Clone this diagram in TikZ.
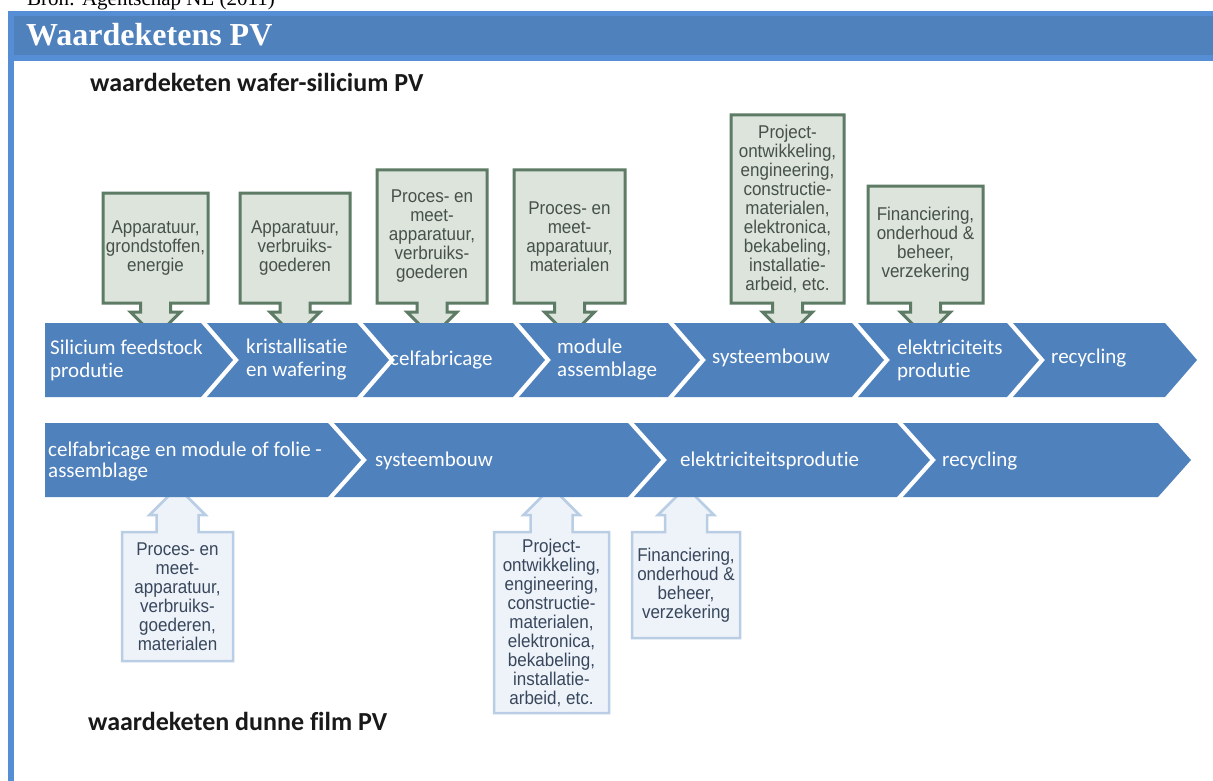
\documentclass[tikz,border=0pt]{standalone}
\usepackage{fontspec}
\setmainfont{Liberation Serif}
\newfontfamily\calib[Ligatures=NoCommon]{Carlito}
\newfontfamily\narrowsans[FakeStretch=0.92]{Liberation Sans}
\definecolor{hdrouter}{HTML}{558ED5}
\definecolor{hdrinner}{HTML}{4F81BD}
\definecolor{chevblue}{HTML}{4F81BD}
\definecolor{gfill}{HTML}{DCE4DC}
\definecolor{gline}{HTML}{5D7B65}
\definecolor{gtextc}{HTML}{46514A}
\definecolor{bfill}{HTML}{EEF3F9}
\definecolor{bline}{HTML}{B9CDE5}
\definecolor{btextc}{HTML}{38475C}
\tikzset{
  chevfill/.style={fill=chevblue},
  gbox/.style={draw=gline, fill=gfill, line width=3pt, line join=miter},
  bbox/.style={draw=bline, fill=bfill, line width=2.5pt, line join=miter},
  gtext/.style={text=gtextc, align=center, inner sep=0pt, font=\narrowsans\fontsize{18.5}{19}\selectfont},
  btext/.style={text=btextc, align=center, inner sep=0pt, font=\narrowsans\fontsize{18.5}{19}\selectfont},
  chevtext/.style={text=white, align=left, inner sep=0pt, anchor=west, font=\calib\fontsize{21}{23}\selectfont},
  heading/.style={anchor=base west, inner sep=0pt, text=black!90, font=\calib\bfseries\fontsize{26}{26}\selectfont}
}
% chevron with notch: L R top bot depth
\newcommand\mychev[5]{\fill[chevfill] (#1,#3) -- (#2,#3) -- ({#2+#5},{(#3+#4)/2}) -- (#2,#4) -- (#1,#4) -- ({#1+#5},{(#3+#4)/2}) -- cycle;}
% first chevron, flat left side
\newcommand\mychevfirst[5]{\fill[chevfill] (#1,#3) -- (#2,#3) -- ({#2+#5},{(#3+#4)/2}) -- (#2,#4) -- (#1,#4) -- cycle;}
% callout with arrow pointing down: x1 x2 top bot name text
\newcommand\calldown[6]{%
  \pgfmathsetmacro\cx{(#1+#2)/2}%
  \draw[gbox] (#1,#3) -- (#2,#3) -- (#2,#4) -- (\cx+15,#4) -- (\cx+15,#4+9) -- (\cx+25,#4+9) -- (\cx,#4+34) -- (\cx-25,#4+9) -- (\cx-15,#4+9) -- (\cx-15,#4) -- (#1,#4) -- cycle;
  \node[gtext] (#5) at (\cx,{(#3+#4)/2}) {#6};}
% callout with arrow pointing up: x1 x2 top bot name text
\newcommand\callup[6]{%
  \pgfmathsetmacro\cx{(#1+#2)/2}%
  \draw[bbox] (#1,#3) -- (\cx-21,#3) -- (\cx-21,#3-17) -- (\cx-28,#3-17) -- (\cx,#3-45) -- (\cx+28,#3-17) -- (\cx+21,#3-17) -- (\cx+21,#3) -- (#2,#3) -- (#2,#4) -- (#1,#4) -- cycle;
  \node[btext] (#5) at (\cx,{(#3+#4)/2}) {#6};}
\begin{document}
\begin{tikzpicture}[x=1pt,y=-1pt]
\useasboundingbox (0,0) rectangle (1213,781);
\clip (0,0) rectangle (1213,781);
\fill[white] (0,0) rectangle (1213,781);
% source line, cut at the top as in the reference
\node[anchor=base west, inner sep=0pt, font=\fontsize{21}{21}\selectfont] (bron) at (27,6) {Bron: Agentschap NL (2011)};
% header band and left bar
\fill[hdrouter] (8,11) rectangle (1213,61);
\fill[hdrinner] (14,16) rectangle (1213,55);
\fill[hdrouter] (8,11) rectangle (14,781);
\node[anchor=base west, inner sep=0pt, text=white, font=\bfseries\fontsize{32}{32}\selectfont] (title) at (26,46) {Waardeketens PV};
% headings
\node[heading] (h1) at (90,92) {waardeketen wafer-silicium PV};
\node[heading] (h2) at (88,730) {waardeketen dunne film PV};
% top callouts
\calldown{103}{208}{193}{303}{t1}{Apparatuur,\\grondstoffen,\\energie}
\calldown{240}{350}{193}{303}{t2}{Apparatuur,\\verbruiks-\\goederen}
\calldown{377}{487}{170}{303}{t3}{Proces- en\\meet-\\apparatuur,\\verbruiks-\\goederen}
\calldown{514}{625}{170}{303}{t4}{Proces- en\\meet-\\apparatuur,\\materialen}
\calldown{731}{844}{115}{303}{t5}{Project-\\ontwikkeling,\\engineering,\\constructie-\\materialen,\\elektronica,\\bekabeling,\\installatie-\\arbeid, etc.}
\calldown{868}{983}{186}{303}{t6}{Financiering,\\onderhoud \&\\beheer,\\verzekering}
% top chevron row
\mychevfirst{45}{201}{323}{397}{32}
\mychev{207}{357}{323}{397}{32}
\mychev{363}{513}{323}{397}{32}
\mychev{519}{668}{323}{397}{32}
\mychev{674}{852}{323}{397}{32}
\mychev{858}{1007}{323}{397}{32}
\mychev{1013}{1165}{323}{397}{32}
\node[chevtext] (c1) at (50,360) {Silicium feedstock\\produtie};
\node[chevtext] (c2) at (246,360) {kristallisatie\\en wafering};
\node[chevtext] (c3) at (390,360) {celfabricage};
\node[chevtext] (c4) at (557,360) {module\\assemblage};
\node[chevtext] (c5) at (712,358) {systeembouw};
\node[chevtext] (c6) at (897,360) {elektriciteits\\produtie};
\node[chevtext] (c7) at (1051,358) {recycling};
% bottom callouts
\callup{122}{233}{532}{661}{b1}{Proces- en\\meet-\\apparatuur,\\verbruiks-\\goederen,\\materialen}
\callup{494}{609}{532}{713}{b2}{Project-\\ontwikkeling,\\engineering,\\constructie-\\materialen,\\elektronica,\\bekabeling,\\installatie-\\arbeid, etc.}
\callup{632}{740}{532}{638}{b3}{Financiering,\\onderhoud \&\\beheer,\\verzekering}
% bottom chevron row
\mychevfirst{45}{328}{423}{497}{33}
\mychev{334}{628}{423}{497}{33}
\mychev{634}{897}{423}{497}{33}
\mychev{903}{1158}{423}{497}{33}
\node[chevtext, font=\calib\fontsize{21}{21}\selectfont] (d1) at (48,462) {celfabricage en module of folie -\\assemblage};
\node[chevtext] (d2) at (375,461) {systeembouw};
\node[chevtext] (d3) at (680,461) {elektriciteitsprodutie};
\node[chevtext] (d4) at (942,461) {recycling};
\end{tikzpicture}
\end{document}
